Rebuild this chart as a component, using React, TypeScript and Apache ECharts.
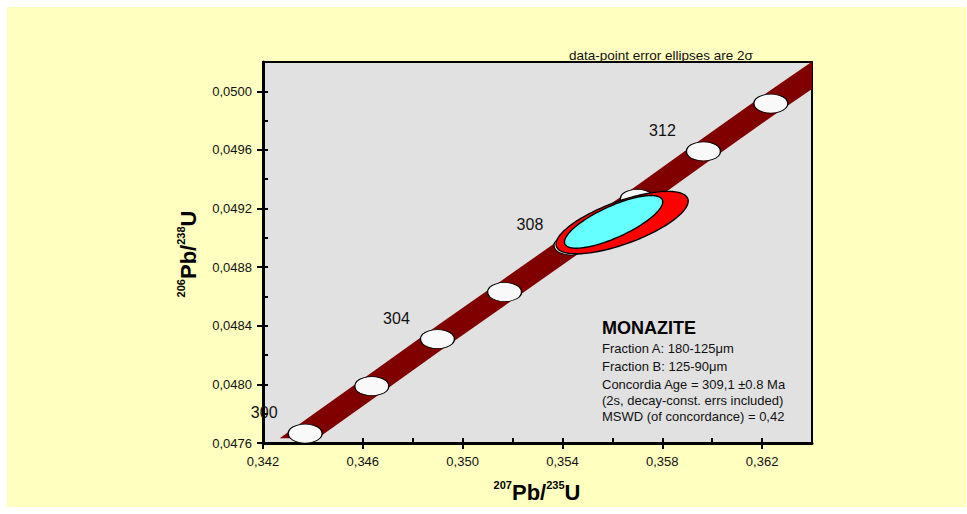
import React, { useEffect, useRef } from "react";
import * as echarts from "echarts";

// ---- axis ticks ----
const xTicks = [0.342, 0.346, 0.35, 0.354, 0.358, 0.362];
const xAllTicks = [0.342, 0.344, 0.346, 0.348, 0.35, 0.352, 0.354, 0.356, 0.358, 0.36, 0.362, 0.364];
const yTicks = [0.0476, 0.048, 0.0484, 0.0488, 0.0492, 0.0496, 0.05];
const yAllTicks = [
  0.0476, 0.0478, 0.048, 0.0482, 0.0484, 0.0486, 0.0488, 0.049, 0.0492, 0.0494, 0.0496, 0.0498, 0.05, 0.0502,
];
const xMin = 0.342;
const xMax = 0.364;
const yMin = 0.0476;
const yMax = 0.0502;

// ---- concordia age markers (Ma) ----
const concordiaAges = [300, 302, 304, 306, 308, 310, 312, 314];
const concordiaX = [0.34369, 0.34636, 0.34899, 0.35168, 0.35434, 0.357, 0.35965, 0.36235];
const concordiaY = [0.047664, 0.047988, 0.048309, 0.04863, 0.048948, 0.049266, 0.04959, 0.049916];
const labelledAges = [300, 304, 308, 312];

// ---- concordia band (decay-constant envelope) ----
const bandStart = [0.342668, 0.04754];
const bandEnd = [0.36468, 0.050189];
const bandHalfHeight = 0.000093;
const bandBottomCut = 0.047632;

// ---- data-point error ellipses (2 sigma) ----
const ellipseCx = [0.35639, 0.35605];
const ellipseCy = [0.049104, 0.049109];
const ellipseSx = [0.002648, 0.001968];
const ellipseSy = [0.000213, 0.00018];
const ellipseRho = [0.69, 0.76];
const ellipseColors = ["#ff0000", "#66ffff"];

// ---- texts ----
const topNote = "data-point error ellipses are 2σ";
const infoTitle = "MONAZITE";
const infoLines = [
  "Fraction A: 180-125μm",
  "Fraction B: 125-90μm",
  "Concordia Age = 309,1 ±0.8 Ma",
  "(2s, decay-const. errs included)",
  "MSWD (of concordance) = 0,42",
];

const FONT = "'Liberation Sans', Arial, Helvetica, sans-serif";

type Pt = number[];

function clipHalf(poly: Pt[], inside: (p: Pt) => boolean, inter: (a: Pt, b: Pt) => Pt): Pt[] {
  const out: Pt[] = [];
  for (let i = 0; i < poly.length; i++) {
    const cur = poly[i];
    const prev = poly[(i + poly.length - 1) % poly.length];
    const ci = inside(cur);
    const pi = inside(prev);
    if (ci) {
      if (!pi) out.push(inter(prev, cur));
      out.push(cur);
    } else if (pi) {
      out.push(inter(prev, cur));
    }
  }
  return out;
}
const interX = (xv: number) => (a: Pt, b: Pt): Pt => {
  const t = (xv - a[0]) / (b[0] - a[0]);
  return [xv, a[1] + t * (b[1] - a[1])];
};
const interY = (yv: number) => (a: Pt, b: Pt): Pt => {
  const t = (yv - a[1]) / (b[1] - a[1]);
  return [a[0] + t * (b[0] - a[0]), yv];
};

export default function App() {
  const ref = useRef<HTMLDivElement>(null);

  useEffect(() => {
    if (!ref.current) return;
    const chart = echarts.init(ref.current, null, { renderer: "svg" });

    const bandRender = (params: any, api: any) => {
      const cs = params.coordSys;
      const cx = [bandStart[0], ...concordiaX, bandEnd[0]];
      const cy = [bandStart[1], ...concordiaY, bandEnd[1]];
      const upper: Pt[] = cx.map((x, i) => api.coord([x, cy[i] + bandHalfHeight]));
      const lower: Pt[] = cx.map((x, i) => api.coord([x, cy[i] - bandHalfHeight]));
      let poly: Pt[] = [...upper, ...lower.reverse()];
      const cutPx = api.coord([xMin, bandBottomCut])[1];
      poly = clipHalf(poly, (p) => p[1] <= cutPx, interY(cutPx));
      poly = clipHalf(poly, (p) => p[0] >= cs.x, interX(cs.x));
      poly = clipHalf(poly, (p) => p[0] <= cs.x + cs.width, interX(cs.x + cs.width));
      poly = clipHalf(poly, (p) => p[1] >= cs.y, interY(cs.y));
      poly = clipHalf(poly, (p) => p[1] <= cs.y + cs.height, interY(cs.y + cs.height));
      return {
        type: "polygon",
        shape: { points: poly },
        style: { fill: "#800000", stroke: "none" },
      };
    };

    const ellipseRender = (color: string) => (params: any, api: any) => {
      const cx = api.value(0);
      const cy = api.value(1);
      const sx = api.value(2);
      const sy = api.value(3);
      const rho = api.value(4);
      const k = Math.sqrt(1 - rho * rho);
      const pts: Pt[] = [];
      const n = 160;
      for (let i = 0; i < n; i++) {
        const t = (i / n) * Math.PI * 2;
        const x = cx + sx * Math.cos(t);
        const y = cy + sy * (rho * Math.cos(t) + k * Math.sin(t));
        pts.push(api.coord([x, y]));
      }
      return {
        type: "polygon",
        shape: { points: pts },
        style: { fill: color, stroke: "#000", lineWidth: 1.4 },
      };
    };

    const tickData = concordiaAges.map((age, i) => ({
      value: [concordiaX[i], concordiaY[i]],
      name: String(age),
      label: { show: labelledAges.includes(age) },
    }));

    const fmtX = (v: number) => v.toFixed(3).replace(".", ",");
    const fmtY = (v: number) => v.toFixed(4).replace(".", ",");

    const axisCommonX = {
      type: "value",
      min: xMin,
      max: xMax,
      position: "bottom",
      splitLine: { show: false },
      gridIndex: 0,
    };
    const axisCommonY = {
      type: "value",
      min: yMin,
      max: yMax,
      position: "left",
      splitLine: { show: false },
      gridIndex: 0,
    };

    const option: any = {
      animation: false,
      grid: {
        left: 263,
        top: 62,
        right: 155,
        bottom: 71,
        show: true,
        backgroundColor: "#e1e1e1",
        borderColor: "#000",
        borderWidth: 2,
      },
      xAxis: [
        {
          ...axisCommonX,
          axisLine: { show: true, onZero: false, lineStyle: { color: "#000", width: 3 } },
          axisTick: { show: true, inside: false, length: 6, customValues: xTicks, lineStyle: { color: "#000", width: 2 } },
          axisLabel: {
            show: true,
            customValues: xTicks,
            formatter: fmtX,
            margin: 12,
            color: "#111",
            fontSize: 13,
            fontFamily: FONT,
          },
        },
        {
          ...axisCommonX,
          axisLine: { show: false, onZero: false },
          axisTick: { show: true, inside: true, length: 5, customValues: xAllTicks, lineStyle: { color: "#000", width: 2 } },
          axisLabel: { show: false },
        },
      ],
      yAxis: [
        {
          ...axisCommonY,
          axisLine: { show: true, onZero: false, lineStyle: { color: "#000", width: 3 } },
          axisTick: { show: true, inside: false, length: 6, customValues: yTicks, lineStyle: { color: "#000", width: 2 } },
          axisLabel: {
            show: true,
            customValues: yTicks,
            formatter: fmtY,
            margin: 11,
            color: "#111",
            fontSize: 13,
            fontFamily: FONT,
          },
        },
        {
          ...axisCommonY,
          axisLine: { show: false, onZero: false },
          axisTick: { show: true, inside: true, length: 5, customValues: yAllTicks, lineStyle: { color: "#000", width: 2 } },
          axisLabel: { show: false },
        },
      ],
      series: [
        {
          type: "custom",
          name: "concordia band",
          xAxisIndex: 0,
          yAxisIndex: 0,
          z: 1,
          silent: true,
          renderItem: bandRender,
          data: [[concordiaX[0], concordiaY[0]]],
        },
        {
          type: "scatter",
          name: "concordia ages",
          xAxisIndex: 0,
          yAxisIndex: 0,
          z: 2,
          symbol: "circle",
          symbolSize: [34, 19],
          itemStyle: { color: "#f9f9f9", borderColor: "#000", borderWidth: 1, opacity: 1 },
          label: {
            show: false,
            position: "inside",
            offset: [-41, -21],
            formatter: (p: any) => p.name,
            color: "#111",
            fontSize: 16,
            fontFamily: FONT,
          },
          data: tickData,
        },
        ...ellipseCx.map((cx, i) => ({
          type: "custom",
          name: "ellipse " + i,
          xAxisIndex: 0,
          yAxisIndex: 0,
          z: 3 + i,
          silent: true,
          renderItem: ellipseRender(ellipseColors[i]),
          data: [[cx, ellipseCy[i], ellipseSx[i], ellipseSy[i], ellipseRho[i]]],
        })),
      ],
      graphic: [
        {
          type: "text",
          x: 661,
          y: 55,
          z: 10,
          style: {
            text: topNote,
            fill: "#111",
            font: `13.5px ${FONT}`,
            align: "center",
            verticalAlign: "middle",
          },
        },
        {
          type: "text",
          x: 602,
          y: 328,
          z: 10,
          style: {
            text: infoTitle,
            fill: "#000",
            font: `bold 18px ${FONT}`,
            align: "left",
            verticalAlign: "middle",
          },
        },
        ...infoLines.map((t, i) => ({
          type: "text",
          x: 602,
          y: [348.5, 366.5, 384.5, 400.5, 416][i],
          z: 10,
          style: {
            text: t,
            fill: "#111",
            font: `13px ${FONT}`,
            align: "left",
            verticalAlign: "middle",
          },
        })),
        {
          type: "text",
          x: 537,
          y: 491,
          z: 10,
          style: {
            text: "{s|207}{m|Pb/}{s|235}{m|U}",
            align: "center",
            verticalAlign: "middle",
            rich: {
              s: { fontSize: 11, fontWeight: "bold", fontFamily: FONT, fill: "#000", verticalAlign: "top", lineHeight: 24 },
              m: { fontSize: 22, fontWeight: "bold", fontFamily: FONT, fill: "#000", verticalAlign: "bottom", lineHeight: 24 },
            },
          },
        },
        {
          type: "text",
          x: 187,
          y: 254,
          rotation: Math.PI / 2,
          z: 10,
          style: {
            text: "{s|206}{m|Pb/}{s|238}{m|U}",
            align: "center",
            verticalAlign: "middle",
            rich: {
              s: { fontSize: 11, fontWeight: "bold", fontFamily: FONT, fill: "#000", verticalAlign: "top", lineHeight: 24 },
              m: { fontSize: 22, fontWeight: "bold", fontFamily: FONT, fill: "#000", verticalAlign: "bottom", lineHeight: 24 },
            },
          },
        },
      ],
    };

    chart.setOption(option);
    return () => chart.dispose();
  }, []);

  return (
    <div style={{ position: "absolute", left: 0, top: 0, width: 967, height: 514, background: "#ffffff" }}>
      <div style={{ position: "absolute", left: 7, top: 7, width: 959, height: 500, background: "#ffffc0" }} />
      <div ref={ref} style={{ position: "absolute", left: 0, top: 0, width: 967, height: 514 }} />
    </div>
  );
}
